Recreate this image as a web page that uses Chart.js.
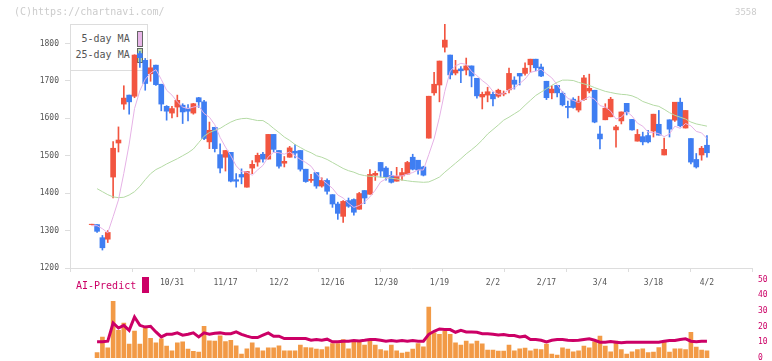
<!DOCTYPE html>
<html>
<head>
<meta charset="utf-8">
<script src="https://cdn.jsdelivr.net/npm/chart.js@4.4.1/dist/chart.umd.min.js"></script>
<style>
  html, body { margin: 0; padding: 0; background: #fff; }
  #wrap { position: relative; width: 772px; height: 361px; overflow: hidden; font-family: "DejaVu Sans Mono", monospace; }
  canvas { position: absolute; left: 0; z-index: 2; }
  #priceChart { top: 0; }
  #volChart { top: 270px; }
  .txt { position: absolute; white-space: pre; line-height: 1; z-index: 3; }
  #legendBox { position: absolute; left: 70px; top: 24px; width: 78px; height: 47px; box-sizing: border-box; border: 1px solid #ddd; background: #fff; z-index: 1; }
  .sw { position: absolute; box-sizing: border-box; border: 1px solid #666; z-index: 1; }
</style>
</head>
<body>
<div id="wrap">
  <div class="txt" style="left:14px; top:7px; font-size:10px; color:#ccc;">(C)https://chartnavi.com/</div>
  <div class="txt" style="left:735px; top:8px; font-size:9px; color:#ccc;">3558</div>

  <div id="legendBox"></div>
  <div class="txt" style="left:81.5px; top:34px; font-size:10px; color:#555; z-index:1;">5-day MA</div>
  <div class="txt" style="left:75.5px; top:50px; font-size:10px; color:#555; z-index:1;">25-day MA</div>
  <div class="sw" style="left:136.5px; top:31px; width:6px; height:16px; background:#e8b6e8;"></div>
  <div class="sw" style="left:136.5px; top:48px; width:6px; height:15px; background:#b6d9a6;"></div>

  <div class="txt" style="left:76px; top:281px; font-size:10px; color:#cc0066;">AI-Predict</div>
  <div class="txt" style="left:142px; top:277px; width:7px; height:16px; background:#cc0066;"></div>

  <canvas id="priceChart" width="772" height="300"></canvas>
  <canvas id="volChart" width="772" height="91"></canvas>
</div>

<script>
// ---- data (one entry per trading day) ----
const opens = [
  1316,1316,1281,1277,1443,1534,1638,1662,1659,1773,
  1755,1719,1742,1691,1632,1614,1630,1635,1626,1614,
  1655,1644,1537,1576,1503,1496,1509,1436,1450,1416,
  1467,1483,1504,1491,1557,1514,1480,1496,1512,1514,
  1464,1434,1455,1419,1434,1396,1371,1338,1380,1383,
  1357,1407,1397,1448,1482,1467,1447,1432,1446,1451,
  1496,1488,1470,1547,1668,1689,1790,1769,1721,1732,
  1729,1740,1707,1657,1662,1664,1659,1665,1676,1702,
  1720,1720,1743,1758,1737,1699,1668,1688,1667,1632,
  1651,1622,1650,1673,1675,1558,1596,1604,1569,1593,
  1640,1597,1539,1551,1554,1566,1584,1502,1596,1595,
  1643,1574,1546,1490,1502,1528
];
const closes = [
  1317,1298,1254,1295,1520,1542,1654,1644,1769,1762,
  1693,1735,1690,1638,1619,1626,1648,1617,1619,1639,
  1644,1546,1568,1519,1467,1514,1432,1432,1443,1458,
  1477,1501,1491,1557,1517,1472,1485,1521,1507,1464,
  1431,1437,1419,1434,1405,1371,1346,1378,1365,1349,
  1399,1387,1450,1453,1459,1443,1429,1445,1455,1482,
  1464,1462,1448,1659,1691,1753,1809,1716,1729,1727,
  1740,1713,1660,1664,1671,1652,1675,1667,1720,1691,
  1713,1734,1758,1735,1713,1655,1678,1668,1636,1629,
  1629,1646,1708,1680,1590,1545,1627,1651,1577,1617,
  1617,1569,1557,1537,1537,1611,1555,1517,1571,1643,
  1580,1621,1483,1470,1520,1508
];
const highs = [
  1317,1316,1287,1300,1538,1577,1687,1662,1770,1779,
  1760,1757,1742,1691,1634,1632,1662,1639,1637,1640,
  1656,1648,1590,1576,1532,1514,1509,1452,1465,1458,
  1487,1507,1509,1557,1557,1514,1498,1525,1530,1514,
  1464,1450,1455,1441,1438,1396,1376,1380,1387,1385,
  1402,1407,1463,1458,1482,1471,1458,1469,1466,1485,
  1504,1488,1472,1659,1723,1753,1852,1769,1755,1738,
  1761,1740,1707,1670,1683,1670,1678,1673,1734,1711,
  1720,1748,1758,1758,1745,1699,1687,1688,1671,1646,
  1655,1659,1715,1718,1675,1579,1639,1656,1581,1617,
  1640,1597,1570,1563,1568,1611,1621,1547,1596,1643,
  1654,1621,1546,1506,1525,1554
];
const lows = [
  1315,1295,1248,1268,1387,1510,1624,1611,1655,1736,
  1675,1699,1688,1620,1595,1601,1604,1586,1593,1611,
  1629,1543,1519,1510,1454,1459,1430,1416,1425,1416,
  1452,1472,1483,1491,1510,1467,1470,1496,1494,1459,
  1429,1429,1413,1416,1397,1362,1330,1322,1362,1341,
  1357,1372,1397,1434,1443,1435,1427,1432,1435,1451,
  1462,1451,1446,1547,1662,1644,1777,1705,1716,1695,
  1716,1684,1654,1625,1644,1633,1656,1660,1668,1678,
  1689,1715,1723,1727,1711,1650,1652,1657,1633,1601,
  1627,1617,1648,1668,1588,1518,1596,1604,1523,1585,
  1609,1568,1539,1529,1534,1550,1555,1502,1550,1592,
  1577,1574,1478,1467,1488,1496
];
const ma5 = [
  1313,1313,1305,1294,1337,1382,1453,1531,1626,1674,
  1704,1721,1730,1704,1675,1662,1644,1630,1626,1630,
  1633,1613,1603,1583,1549,1523,1500,1473,1458,1456,
  1448,1462,1474,1497,1509,1508,1504,1510,1500,1490,
  1482,1472,1452,1437,1425,1413,1395,1387,1373,1362,
  1367,1376,1390,1408,1430,1438,1447,1446,1446,1451,
  1455,1462,1462,1503,1545,1603,1672,1726,1740,1747,
  1744,1725,1714,1701,1690,1672,1664,1666,1677,1681,
  1693,1705,1723,1726,1731,1719,1708,1690,1670,1653,
  1648,1642,1650,1658,1651,1634,1630,1619,1598,1603,
  1618,1606,1587,1579,1563,1562,1559,1551,1558,1579,
  1573,1586,1580,1565,1561,1546
];
const ma25 = [
  null,1412,1404,1396,1390,1388,1389,1395,1404,1418,
  1436,1452,1463,1470,1478,1485,1492,1500,1508,1518,
  1535,1552,1562,1568,1573,1582,1590,1596,1599,1600,
  1597,1594,1594,1585,1573,1562,1550,1541,1530,1522,
  1514,1508,1500,1496,1490,1482,1474,1466,1460,1456,
  1450,1447,1445,1444,1443,1441,1440,1438,1435,1433,
  1431,1430,1429,1430,1436,1443,1456,1468,1480,1492,
  1505,1516,1528,1542,1558,1570,1582,1595,1603,1612,
  1621,1635,1648,1661,1670,1679,1688,1696,1702,1702,
  1701,1696,1692,1688,1682,1677,1672,1669,1666,1664,
  1663,1660,1654,1645,1640,1635,1632,1624,1615,1608,
  1603,1598,1590,1585,1582,1579
];
const volume = [
  null,3.4,13.4,6.5,36.1,17.6,22.3,8.8,17.2,8.8,
  19.1,12.6,9.7,12.2,7.6,4.6,9.7,10.3,5.7,4.2,
  3.8,20.2,10.9,10.7,14.1,10.5,11.3,7.8,2.5,5.9,
  9.7,6.5,4.6,6.5,6.5,7.8,4.6,4.6,4.6,8.2,
  6.7,6.5,5.7,5.3,7.1,9.2,9.2,11.8,5.9,10.3,
  10.3,8.2,10.9,8.2,5.3,4.6,8.2,4.6,3.2,3.8,
  5.7,9.2,7.1,32.4,16.0,15.1,17.2,15.1,9.7,8.2,
  10.7,9.0,10.7,9.0,5.0,5.0,4.4,4.4,8.2,4.6,
  5.9,6.3,4.6,5.7,5.3,8.8,2.5,1.9,6.5,5.7,
  4.0,4.6,7.6,6.5,10.3,13.9,7.6,4.0,10.7,5.3,
  2.5,4.0,5.3,5.9,3.4,3.8,6.7,10.3,3.8,5.9,
  5.9,5.3,16.4,6.9,5.0,4.6
];
const predict = [
  null,10.3,10.3,10.7,22.3,19.1,20.8,17.6,26.1,20.8,
  19.7,20.2,16.6,13.4,15.1,15.1,16.0,14.5,15.1,16.0,
  13.4,16.0,15.1,15.8,16.0,15.5,15.5,16.6,15.1,13.9,
  13.0,13.0,14.5,16.0,13.9,13.9,12.4,12.4,12.4,12.4,
  12.4,11.3,11.8,11.3,12.0,10.3,10.3,10.7,10.7,11.1,
  10.9,11.3,11.8,11.8,11.3,10.7,11.1,10.7,11.1,10.7,
  11.1,10.7,10.7,15.1,17.0,18.5,18.1,18.1,16.4,17.6,
  16.6,16.6,16.4,15.5,15.5,15.1,14.7,15.0,14.3,14.3,
  13.4,13.9,11.8,11.8,11.3,10.3,11.3,11.8,11.8,11.3,
  11.1,11.3,11.8,12.2,11.3,10.1,10.1,10.5,10.1,9.7,
  10.1,10.1,10.1,10.1,10.1,10.1,10.1,10.7,11.1,11.1,
  11.8,12.2,10.7,10.3,10.7,10.7
];
const dateLabels = ['10/31','11/17','12/2','12/16','12/30','1/19','2/2','2/17','3/4','3/18','4/2'];
const dateIdx = [15, 25, 35, 45, 55, 65, 75, 85, 95, 105, 115];
const priceTicks = [1200, 1300, 1400, 1500, 1600, 1700, 1800];
const volTicks = [0, 10, 20, 30, 40, 50];

// ---- look ----
const RED = '#f25540', BLUE = '#3f7ef2', PINK = '#e6b2e6', GREEN = '#b4daa4';
const ORANGE = '#f29a46', MAGENTA = '#cc0066', AXIS = '#dddddd';
const X_MIN = -4.06, X_MAX = 123.42;
const gridStep = (X_MAX - X_MIN) / 11;

Chart.defaults.font.family = '"DejaVu Sans Mono", monospace';
Chart.defaults.font.size = 8;
Chart.defaults.color = '#555';

const gridTicks = [];
for (let k = 0; k <= 11; k++) gridTicks.push(X_MIN + k * gridStep);
const xTickValues = gridTicks.concat(dateIdx).sort((a, b) => a - b);
const labelOf = v => { const j = dateIdx.indexOf(v); return j >= 0 ? dateLabels[j] : ''; };

const candleColor = ctx => closes[ctx.dataIndex] >= opens[ctx.dataIndex] ? RED : BLUE;
const pts = arr => arr.map((v, i) => ({ x: i, y: v }));

// ---- price chart ----
new Chart(document.getElementById('priceChart'), {
    type: 'line',
    data: {
        datasets: [
            { label: '5-day MA', data: pts(ma5), borderColor: PINK, borderWidth: 1, pointRadius: 0, tension: 0, order: 0 },
            { label: '25-day MA', data: pts(ma25), borderColor: GREEN, borderWidth: 1, pointRadius: 0, tension: 0, order: 0 },
            { type: 'bar', label: 'wick', data: highs.map((h, i) => ({ x: i, y: [lows[i], h] })),
              backgroundColor: candleColor, barThickness: 1, grouped: false, borderWidth: 0, order: 2 },
            { type: 'bar', label: 'body', data: opens.map((o, i) => ({ x: i, y: [o, closes[i]] })),
              backgroundColor: candleColor, barThickness: 5, grouped: false, borderWidth: 0, order: 1 }
        ]
    },
    options: {
        responsive: false,
        animation: false,
        devicePixelRatio: 1,
        layout: { padding: { top: 24, right: 20, left: 0, bottom: 0 } },
        plugins: { legend: { display: false }, tooltip: { enabled: false } },
        scales: {
            x: {
                type: 'linear', min: X_MIN, max: X_MAX, offset: false,
                afterBuildTicks: s => { s.ticks = xTickValues.map(v => ({ value: v })); },
                afterFit: s => { s.height = 32; },
                grid: { drawOnChartArea: false, tickLength: 4, offset: false,
                        color: ctx => (ctx.tick && dateIdx.includes(ctx.tick.value)) ? 'rgba(0,0,0,0)' : AXIS },
                border: { color: AXIS },
                ticks: { autoSkip: false, maxRotation: 0, padding: 6, callback: v => labelOf(v) }
            },
            y: {
                position: 'left', min: 1200, max: 1852,
                afterBuildTicks: s => { s.ticks = priceTicks.map(v => ({ value: v })); },
                afterFit: s => { s.width = 70; },
                grid: { drawOnChartArea: false, tickLength: 5, color: AXIS },
                border: { color: AXIS },
                ticks: { padding: 6, callback: v => String(v) }
            }
        }
    }
});

// ---- volume + AI-Predict ----
new Chart(document.getElementById('volChart'), {
    type: 'line',
    data: {
        datasets: [
            { label: 'AI-Predict', data: pts(predict), borderColor: MAGENTA, borderWidth: 3, pointRadius: 0, tension: 0, order: 0 },
            { type: 'bar', label: 'volume', data: pts(volume), backgroundColor: ORANGE, barThickness: 4, borderWidth: 0, order: 1 }
        ]
    },
    options: {
        responsive: false,
        animation: false,
        devicePixelRatio: 1,
        layout: { padding: { top: 9.5, right: 0, left: 70, bottom: 3 } },
        plugins: { legend: { display: false }, tooltip: { enabled: false } },
        scales: {
            x: {
                type: 'linear', min: X_MIN, max: X_MAX, offset: false,
                afterFit: s => { s.height = 0; s.paddingLeft = 0; s.paddingRight = 0; },
                grid: { display: false, drawTicks: false },
                border: { display: false },
                ticks: { display: false }
            },
            y: {
                position: 'right', min: 0, max: 50,
                afterBuildTicks: s => { s.ticks = volTicks.map(v => ({ value: v })); },
                afterFit: s => { s.width = 20; s.paddingTop = 0; s.paddingBottom = 0; },
                grid: { display: false, drawTicks: false },
                border: { display: false },
                ticks: { padding: 6, color: MAGENTA, callback: v => String(v) }
            }
        }
    }
});
</script>
</body>
</html>
